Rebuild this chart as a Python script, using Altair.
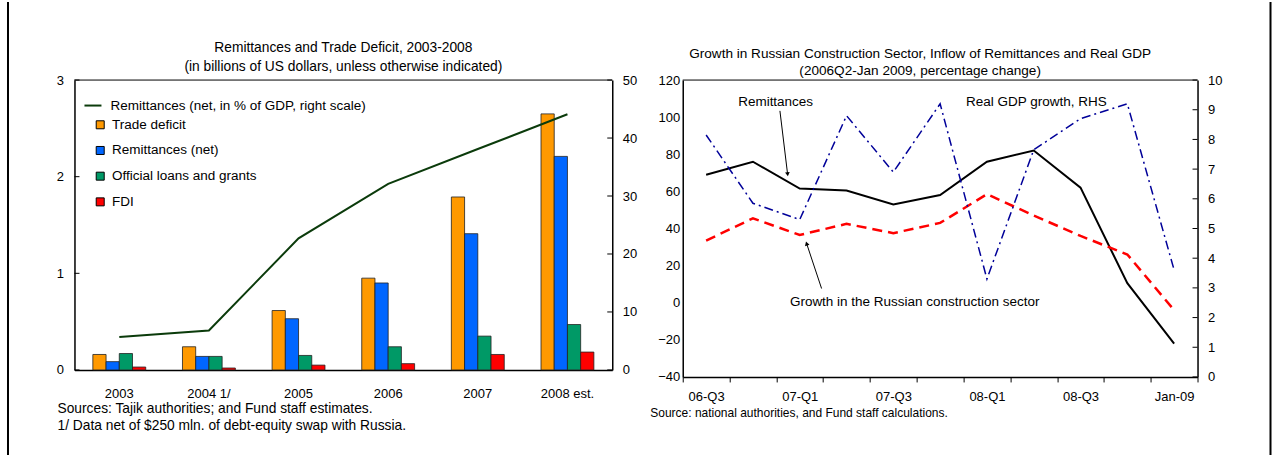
import json
import numpy as np
import pandas as pd
import altair as alt

FONT = "Liberation Sans"

# ---------------- Left panel: remittances and trade deficit ----------------
years = ["2003", "2004 1/", "2005", "2006", "2007", "2008 est."]
trade_deficit = [0.16, 0.24, 0.615, 0.95, 1.79, 2.65]
remittances_net = [0.086, 0.14, 0.53, 0.90, 1.41, 2.21]
official_loans = [0.17, 0.14, 0.15, 0.24, 0.35, 0.47]
fdi = [0.03, 0.02, 0.05, 0.065, 0.16, 0.185]
remittances_pct_gdp = [5.7, 6.8, 22.7, 32.1, 38.1, 44.1]

bar_series = ["Trade deficit", "Remittances (net)", "Official loans and grants", "FDI"]
bar_colors = ["#FF9900", "#0066FF", "#009966", "#FF0000"]
line_label = "Remittances (net, in % of GDP, right scale)"
line_color = "#0B3B0B"

usd_ticks = [0, 1, 2, 3]
pct_ticks = [0, 10, 20, 30, 40, 50]

left_title = ["Remittances and Trade Deficit, 2003-2008",
              "(in billions of US dollars, unless otherwise indicated)"]
left_notes = ["Sources: Tajik authorities; and Fund staff estimates.",
              "1/ Data net of $250 mln. of debt-equity swap with Russia."]

# ---------------- Right panel: Russian construction, remittances, GDP ----------------
quarters = ["06-Q3", "06-Q4", "07-Q1", "07-Q2", "07-Q3", "07-Q4",
            "08-Q1", "08-Q2", "08-Q3", "08-Q4", "Jan-09"]
remit_growth = [69, 76, 61.5, 60.5, 53, 58, 76, 82, 62, 10.5, -22]
construction_growth = [33.5, 45.5, 36.5, 42.5, 37.5, 43, 58.5, 47, 36, 26, -4]
gdp_growth = [8.15, 5.85, 5.3, 8.8, 6.9, 9.2, 3.3, 7.65, 8.7, 9.2, 3.6]

growth_ticks = list(range(-40, 121, 20))
gdp_ticks = list(range(0, 11))

right_title = ["Growth in Russian Construction Sector, Inflow of Remittances and Real GDP",
               "(2006Q2-Jan 2009, percentage change)"]
right_note = "Source: national authorities, and Fund staff calculations."

# callout labels, in (quarter index, left-axis value)
callout_center = pd.DataFrame({
    "text": ["Remittances", "Real GDP growth, RHS"],
    "x": [1.485, 7.056],
    "y": [108.4, 108.4],
})
callout_left = pd.DataFrame({
    "text": ["Growth in the Russian construction sector"],
    "x": [1.79],
    "y": [0.3],
})
arrow_x0 = [1.577, 2.467]
arrow_y0 = [103.4, 7.65]
arrow_x1 = [1.741, 2.147]
arrow_y1 = [69.2, 31.9]

# ---------------- sizes ----------------
LW, LH = 538, 290
RW, RH = 515, 297
GAP = 70.5
FRAME_L = -66.5   # page border, relative to the left plot
FRAME_R = 588     # page border, relative to the right plot

# ================= left chart =================
bar_rows = []
for s, vals in zip(bar_series, [trade_deficit, remittances_net, official_loans, fdi]):
    for y, v in zip(years, vals):
        bar_rows.append({"year": y, "series": s, "value": v})
bars_df = pd.DataFrame(bar_rows)
pct_df = pd.DataFrame({"year": years, "pct": remittances_pct_gdp, "label": line_label})

x_years = alt.X(
    "year:N", sort=years,
    scale=alt.Scale(paddingInner=0.41, paddingOuter=0.205),
    axis=alt.Axis(title=None, ticks=False, labelAngle=0, labelPadding=17.5,
                  domainColor="black", domainWidth=1.5),
)
usd_scale = alt.Scale(domain=[0, 3], nice=False, zero=True)
pct_scale = alt.Scale(domain=[0, 50], nice=False, zero=True)

bars = alt.Chart(bars_df).mark_bar(stroke="#222222", strokeWidth=0.8).encode(
    x=x_years,
    xOffset=alt.XOffset("series:N", scale=alt.Scale(domain=bar_series, paddingInner=0, paddingOuter=0)),
    y=alt.Y("value:Q", scale=usd_scale,
            axis=alt.Axis(title=None, values=usd_ticks, format="d", ticks=False, grid=False,
                          labelPadding=11, domainWidth=1.5, orient="left")),
    fill=alt.Fill("series:N", scale=alt.Scale(domain=bar_series, range=bar_colors),
                  legend=alt.Legend(title=None, orient="none", legendX=19,
                                    legendY=38, symbolType="square", symbolSize=64,
                                    symbolStrokeColor="black", symbolStrokeWidth=1,
                                    labelOffset=5, rowPadding=10.7, padding=0,
                                    labelLimit=400)),
)
usd_tick_marks = alt.Chart(pd.DataFrame({"v": usd_ticks})).mark_rule(color="black").encode(
    y=alt.Y("v:Q", scale=usd_scale), x=alt.value(0), x2=alt.value(5)
)
left_top = alt.Chart().mark_rule(color="black", strokeWidth=1).encode(
    x=alt.value(0), x2=alt.value(LW), y=alt.value(0)
)
left_border = alt.Chart().mark_rule(color="black", strokeWidth=2).encode(
    x=alt.value(FRAME_L), y=alt.value(-78), y2=alt.value(375)
)
left_head = alt.Chart().mark_text(
    text=left_title, align="center", baseline="middle", fontSize=13.8, lineHeight=19,
    font=FONT, color="black"
).encode(x=alt.value(LW / 2), y=alt.value(-32))
left_foot = alt.Chart().mark_text(
    text=left_notes, align="left", baseline="middle", fontSize=13.8, lineHeight=17,
    font=FONT, color="black"
).encode(x=alt.value(-17), y=alt.value(329))

pct_line = alt.Chart(pct_df).mark_line(strokeWidth=2).encode(
    x=alt.X("year:N", sort=years),
    y=alt.Y("pct:Q", scale=pct_scale,
            axis=alt.Axis(title=None, values=pct_ticks, format="d", ticks=False, grid=False,
                          labelPadding=10, domainWidth=1.5, orient="right")),
    stroke=alt.Stroke("label:N", scale=alt.Scale(domain=[line_label], range=[line_color]),
                      legend=alt.Legend(title=None, orient="none", legendX=9,
                                        legendY=16, symbolType="stroke", symbolSize=289,
                                        symbolStrokeWidth=2, labelOffset=8, padding=0,
                                        labelLimit=400)),
)
pct_tick_marks = alt.Chart(pd.DataFrame({"v": pct_ticks})).mark_rule(color="black").encode(
    y=alt.Y("v:Q", scale=pct_scale), x=alt.value(LW - 5), x2=alt.value(LW)
)

left_chart = alt.layer(
    alt.layer(bars, usd_tick_marks, left_top, left_border, left_head, left_foot),
    alt.layer(pct_line, pct_tick_marks),
).resolve_scale(y="independent").properties(width=LW, height=LH)

# ================= right chart =================
growth_df = pd.DataFrame({
    "idx": np.arange(len(quarters)),
    "quarter": quarters,
    "remit": remit_growth,
    "constr": construction_growth,
    "gdp": gdp_growth,
})

shown = [q if i % 2 == 0 else "" for i, q in enumerate(quarters)] + [""]
label_expr = json.dumps(shown) + "[round(datum.value + 0.5)]"
step = RW / len(quarters)

q_scale = alt.Scale(domain=[-0.5, len(quarters) - 0.5], nice=False, zero=False)
q_axis = alt.Axis(title=None, values=[i - 0.5 for i in range(len(quarters) + 1)],
                  labelExpr=label_expr, labelOffset=step / 2, tickSize=5, ticks=True,
                  grid=False, labelFlush=False, labelOverlap=False, labelPadding=9,
                  labelBound=False, domainWidth=1.5)
g_scale = alt.Scale(domain=[-40, 120], nice=False, zero=False)
g_axis = alt.Axis(title=None, values=growth_ticks, format="d", ticks=False, grid=False,
                  labelPadding=3, domainWidth=1.5, orient="left")
r_scale = alt.Scale(domain=[0, 10], nice=False, zero=True)
r_axis = alt.Axis(title=None, values=gdp_ticks, format="d", ticks=False, grid=False,
                  labelPadding=10, domainWidth=1.5, orient="right")


def qx(field):
    return alt.X(f"{field}:Q", scale=q_scale, axis=q_axis)


def gy(field):
    return alt.Y(f"{field}:Q", scale=g_scale, axis=g_axis)


remit_line = alt.Chart(growth_df).mark_line(color="black", strokeWidth=2).encode(
    x=qx("idx"), y=gy("remit")
)
constr_line = alt.Chart(growth_df).mark_line(
    color="#FF0000", strokeWidth=2.5, strokeDash=[10, 6]
).encode(x=qx("idx"), y=gy("constr"))

text_c = alt.Chart(callout_center).mark_text(
    align="center", baseline="middle", fontSize=13.5, font=FONT, color="black"
).encode(x=qx("x"), y=gy("y"), text="text:N")
text_l = alt.Chart(callout_left).mark_text(
    align="left", baseline="middle", fontSize=13.5, font=FONT, color="black"
).encode(x=qx("x"), y=gy("y"), text="text:N")

px_x = RW / len(quarters)
px_y = RH / 160.0
arrows_df = pd.DataFrame({"x0": arrow_x0, "y0": arrow_y0, "x1": arrow_x1, "y1": arrow_y1})
dxp = (arrows_df["x1"] - arrows_df["x0"]) * px_x
dyp = -(arrows_df["y1"] - arrows_df["y0"]) * px_y
arrows_df["ang"] = np.degrees(np.arctan2(dxp, -dyp)) % 360

arrow_shafts = alt.Chart(arrows_df).mark_rule(color="black", strokeWidth=1).encode(
    x=qx("x0"), x2="x1:Q", y=gy("y0"), y2="y1:Q"
)
arrow_heads = alt.Chart(arrows_df).mark_point(
    shape="triangle-up", filled=True, color="black", size=22, opacity=1
).encode(x=qx("x1"), y=gy("y1"), angle=alt.Angle("ang:Q", scale=None))

right_top = alt.Chart().mark_rule(color="black", strokeWidth=1).encode(
    x=alt.value(0), x2=alt.value(RW), y=alt.value(0)
)
right_border = alt.Chart().mark_rule(color="black", strokeWidth=2).encode(
    x=alt.value(FRAME_R), y=alt.value(-78), y2=alt.value(375)
)
right_head = alt.Chart().mark_text(
    text=right_title, align="center", baseline="middle", fontSize=13.6, lineHeight=17.5,
    font=FONT, color="black"
).encode(x=alt.value(RW / 2 - 20), y=alt.value(-26.3))
right_foot = alt.Chart().mark_text(
    text=right_note, align="left", baseline="middle", fontSize=12, font=FONT, color="black"
).encode(x=alt.value(-32.5), y=alt.value(333))

gdp_line = alt.Chart(growth_df).mark_line(
    color="#000099", strokeWidth=1.5, strokeDash=[9, 4, 2, 4]
).encode(x=qx("idx"), y=alt.Y("gdp:Q", scale=r_scale, axis=r_axis))
gdp_tick_marks = alt.Chart(pd.DataFrame({"v": gdp_ticks})).mark_rule(color="black").encode(
    y=alt.Y("v:Q", scale=r_scale, axis=r_axis), x=alt.value(RW - 5), x2=alt.value(RW)
)

right_chart = alt.layer(
    alt.layer(remit_line, constr_line, text_c, text_l, arrow_shafts, arrow_heads,
              right_top, right_border, right_head, right_foot),
    alt.layer(gdp_line, gdp_tick_marks),
).resolve_scale(y="independent").properties(width=RW, height=RH)

chart = alt.hconcat(
    left_chart, right_chart, spacing=GAP, bounds="flush"
).properties(
    padding={"left": 6.5, "top": 0, "right": 0, "bottom": 0},
    background="white",
).configure(
    font=FONT,
).configure_view(
    stroke="transparent",
).configure_axis(
    labelFont=FONT, labelFontSize=13, labelColor="black",
    domainColor="black", tickColor="black", grid=False,
).configure_legend(
    labelFont=FONT, labelFontSize=13.5, labelColor="black",
)

chart.save("out.html", embed_options={"renderer": "svg", "actions": False})
